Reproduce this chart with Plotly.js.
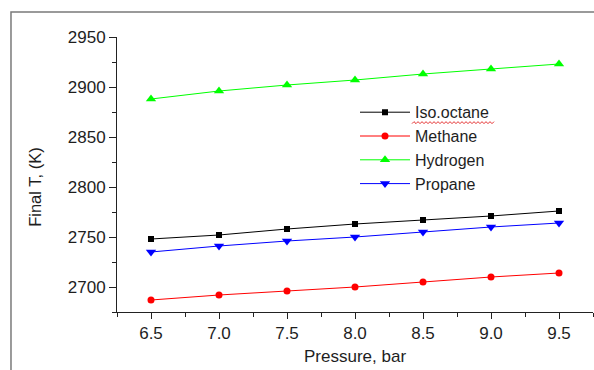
<!DOCTYPE html>
<html>
<head>
<meta charset="utf-8">
<script src="https://cdn.plot.ly/plotly-3.0.1.min.js"></script>
<style>html,body{margin:0;padding:0;background:#fff;}#chart{width:594px;height:370px;}</style>
</head>
<body>
<div id="chart"></div>
<script>
const pressure = [6.5, 7.0, 7.5, 8.0, 8.5, 9.0, 9.5];
const isoOctane = [2748, 2752, 2758, 2763, 2767, 2771, 2776];
const methane = [2687, 2692, 2696, 2700, 2705, 2710, 2714];
const hydrogen = [2888, 2896, 2902, 2907, 2913, 2918, 2923];
const propane = [2735, 2741, 2746, 2750, 2755, 2760, 2764];
const seriesNames = ["Iso.octane", "Methane", "Hydrogen", "Propane"];
const xTitle = "Pressure, bar";
const yTitle = "Final T, (K)";

const font = "Arial, 'Liberation Sans', sans-serif";
const txt = '#1e1e1e';
function tr(name, y, color, symbol, size) {
  return {
    x: pressure, y: y, name: name, type: 'scatter', mode: 'lines+markers',
    line: {color: color, width: 1},
    marker: {color: color, symbol: symbol, size: size}
  };
}
const data = [
  tr(seriesNames[0], isoOctane, '#000000', 'square', 6),
  tr(seriesNames[1], methane, '#ff0000', 'circle', 7),
  tr(seriesNames[2], hydrogen, '#00ff00', 'triangle-up', 9),
  tr(seriesNames[3], propane, '#0000ff', 'triangle-down', 9)
];

// decorative spell-check squiggle under the first legend entry (page pixels -> paper)
const W = 594 - 117 - 1, H = 370 - 37 - 57.5;
function px(X) { return (X - 117) / W; }
function py(Y) { return (370 - 57.5 - Y) / H; }
let squiggle = '';
for (let X = 412, i = 0; X <= 495; X += 2, i++) {
  squiggle += (i === 0 ? 'M ' : ' L ') + px(X).toFixed(4) + ',' + py(i % 2 ? 121.8 : 123.8).toFixed(4);
}

const layout = {
  width: 594, height: 370,
  margin: {l: 117, r: 1, t: 37, b: 57.5, pad: 0},
  paper_bgcolor: '#ffffff', plot_bgcolor: '#ffffff',
  font: {family: font, size: 17, color: txt},
  showlegend: true,
  legend: {x: 0.5, y: 0.788, xanchor: 'left', yanchor: 'top', bgcolor: 'rgba(0,0,0,0)',
           itemwidth: 50,
           font: {family: font, size: 16, color: txt}, tracegroupgap: 0},
  xaxis: {
    range: [6.25, 9.75], tick0: 6.5, dtick: 0.5, tickformat: '.1f',
    showgrid: false, zeroline: false, showline: true, linecolor: '#222', linewidth: 1,
    ticks: 'outside', ticklen: 6, tickcolor: '#222', tickwidth: 1,
    minor: {dtick: 0.25, tick0: 6.25, ticks: 'outside', ticklen: 4, tickcolor: '#222', showgrid: false},
    tickfont: {family: font, size: 17, color: txt}
  },
  yaxis: {
    range: [2675, 2950], tick0: 2700, dtick: 50,
    showgrid: false, zeroline: false, showline: true, linecolor: '#222', linewidth: 1,
    ticks: 'outside', ticklen: 7, tickcolor: '#222', tickwidth: 1,
    minor: {dtick: 25, ticks: 'outside', ticklen: 4, tickcolor: '#222', showgrid: false},
    tickfont: {family: font, size: 17, color: txt}
  },
  annotations: [
    {text: xTitle, xref: 'paper', yref: 'paper', x: 0.5, y: -0.1615, xanchor: 'center', yanchor: 'middle',
     showarrow: false, font: {family: font, size: 17, color: txt}},
    {text: yTitle, xref: 'paper', yref: 'paper', x: -0.172, y: 0.452, xanchor: 'center', yanchor: 'middle',
     textangle: -90, showarrow: false, font: {family: font, size: 16.5, color: txt}}
  ],
  shapes: [
    {type: 'path', xref: 'paper', yref: 'paper',
     path: 'M -0.2227,-0.3 L -0.2227,1.0909 L 1.2,1.0909', line: {color: '#7a7a7a', width: 1.5}},
    {type: 'path', xref: 'paper', yref: 'paper', path: squiggle, line: {color: '#e53030', width: 1}}
  ]
};
Plotly.newPlot('chart', data, layout, {displayModeBar: false, staticPlot: true});
</script>
</body>
</html>
